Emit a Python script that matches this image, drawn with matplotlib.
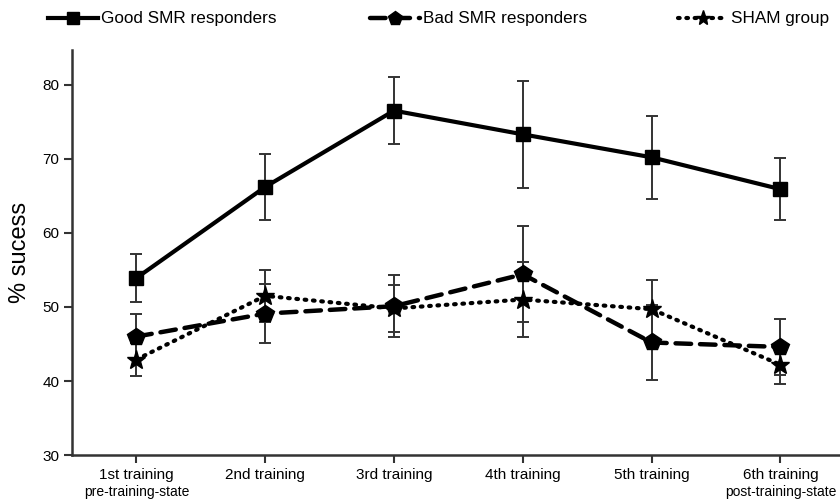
import numpy as np
import matplotlib
matplotlib.use("Agg")
import matplotlib.pyplot as plt
from matplotlib.lines import Line2D
from matplotlib.transforms import blended_transform_factory

plt.rcParams['font.family'] = ['Liberation Sans', 'DejaVu Sans']

# data
sessions = ["1st training", "2nd training", "3rd training", "4th training", "5th training", "6th training"]
sublabels = {0: "pre-training-state", 5: "post-training-state"}

good_mean = [53.9, 66.2, 76.5, 73.3, 70.2, 65.9]
good_err = [3.3, 4.5, 4.5, 7.2, 5.6, 4.2]

bad_mean = [46.0, 49.1, 50.1, 54.4, 45.2, 44.6]
bad_err = [3.0, 4.0, 4.2, 6.5, 5.0, 3.8]

sham_mean = [42.9, 51.5, 49.8, 51.0, 49.7, 42.2]
sham_err = [2.2, 3.5, 3.2, 5.0, 3.9, 2.6]

x = np.arange(1, len(sessions) + 1)

fig = plt.figure(figsize=(8.4, 4.99), dpi=100)
ax = fig.add_axes([0.0857, 0.088, 0.92, 0.812])

eb = dict(ecolor='#333333', elinewidth=1.4, capsize=4, capthick=1.4, zorder=2)

good_style = dict(color='black', lw=3, ls='-', marker='s')
bad_style = dict(color='black', lw=3.2, ls=(0, (3.5, 2)), marker='p')
sham_style = dict(color='black', lw=3, ls=(0, (0.4, 1.6)), marker='*')

l1 = ax.errorbar(x, good_mean, yerr=good_err, ms=10, **good_style, **eb)
l2 = ax.errorbar(x, bad_mean, yerr=bad_err, ms=13, **bad_style, **eb)
l3 = ax.errorbar(x, sham_mean, yerr=sham_err, ms=14, dash_capstyle='round', **sham_style, **eb)
for c in (l1, l2, l3):
    c[0].set_dash_capstyle('round')

ax.set_xlim(0.5, 6.5)
ax.set_ylim(30, 84.7)
ax.set_yticks([30, 40, 50, 60, 70, 80])
ax.set_xticks(x)
ax.set_xticklabels(sessions, fontsize=11)
ax.tick_params(axis='both', direction='out', length=6, width=1.5, color='#333333', labelsize=11, pad=3)
ax.tick_params(axis='x', pad=3)
ax.set_ylabel('% sucess', fontsize=17, labelpad=8)

for s in ['top', 'right']:
    ax.spines[s].set_visible(False)
for s in ['left', 'bottom']:
    ax.spines[s].set_linewidth(1.8)
    ax.spines[s].set_color('#333333')

trans = blended_transform_factory(ax.transData, ax.transAxes)
for i, t in sublabels.items():
    ax.text(x[i], -0.092, t, transform=trans, ha='center', va='center', fontsize=10)

# legend, one entry per column
handles = [
    Line2D([], [], ms=8, label='Good SMR responders', **good_style),
    Line2D([], [], ms=10, label='Bad SMR responders', dash_capstyle='round', **bad_style),
    Line2D([], [], ms=11, label='SHAM group', dash_capstyle='round', **sham_style),
]
xpos = [48, 370, 678]
for h, xp in zip(handles, xpos):
    fig.legend(handles=[h], loc='center left', bbox_to_anchor=(xp / 840, 1 - 19 / 499),
               frameon=False, fontsize=12.3, handlelength=2.9, handletextpad=0.2,
               borderpad=0, borderaxespad=0, numpoints=1)

fig.savefig('out.png', dpi=100)
